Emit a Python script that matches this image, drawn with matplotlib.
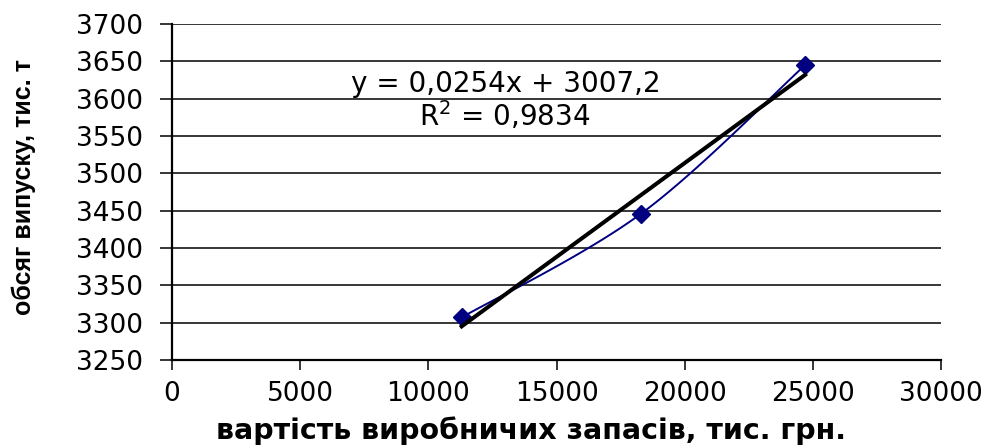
import numpy as np
import matplotlib
matplotlib.use("Agg")
import matplotlib.pyplot as plt

# data
x_vals = [11300, 18300, 24700]
y_vals = [3307, 3446, 3645]
x_ticks = [0, 5000, 10000, 15000, 20000, 25000, 30000]
y_ticks = [3250, 3300, 3350, 3400, 3450, 3500, 3550, 3600, 3650, 3700]
eq_text = "y = 0,0254x + 3007,2"
r2_text = "R$^2$ = 0,9834"
x_label = "вартість виробничих запасів, тис. грн."
y_label = "обсяг випуску, тис. т"

fig = plt.figure(figsize=(9.92, 4.48), dpi=100)
ax = fig.add_axes([172/992, 1-360/448, (941-172)/992, 336/448])
ax.set_xlim(0, 30000)
ax.set_ylim(3250, 3700)

# smoothed line (Excel-like Bezier smoothing in pixel space)
W, H = 769.0, 336.0
px = np.array(x_vals) / 30000 * W
py = (np.array(y_vals) - 3250) / 450 * H
P = np.column_stack([px, py])
n = len(P)
curve = []
t = np.linspace(0, 1, 60)
for i in range(n - 1):
    p0 = P[max(i - 1, 0)]
    p1 = P[i]
    p2 = P[i + 1]
    p3 = P[min(i + 2, n - 1)]
    c1 = p1 + (p2 - p0) / 6
    c2 = p2 - (p3 - p1) / 6
    seg = ((1 - t)[:, None] ** 3 * p1 + 3 * ((1 - t) ** 2 * t)[:, None] * c1
           + 3 * ((1 - t) * t ** 2)[:, None] * c2 + (t ** 3)[:, None] * p2)
    curve.append(seg)
curve = np.vstack(curve)
cx = curve[:, 0] / W * 30000
cy = curve[:, 1] / H * 450 + 3250
ax.plot(cx, cy, color="#000080", lw=1.4, zorder=3)
ax.plot(x_vals, y_vals, linestyle="none", marker="D", color="#000080",
        markersize=9, zorder=4)

# linear trend line
k, b = np.polyfit(x_vals, y_vals, 1)
xt = np.array([min(x_vals), max(x_vals)])
ax.plot(xt, k * xt + b, color="black", lw=2.9, zorder=5)

# grid & spines
ax.set_yticks(y_ticks)
ax.set_xticks(x_ticks)
ax.grid(axis="y", color="black", lw=1.1)
ax.set_axisbelow(True)
for s in ["top", "right"]:
    ax.spines[s].set_visible(False)
ax.spines["left"].set_linewidth(1.6)
ax.spines["bottom"].set_linewidth(1.6)
ax.tick_params(axis="y", direction="out", length=9, width=1.1, pad=12,
               labelsize=19)
ax.tick_params(axis="x", direction="out", length=7, width=1.1, pad=8,
               labelsize=19)
for lab in ax.get_xticklabels() + ax.get_yticklabels():
    lab.set_family("DejaVu Sans")

ax.text(506/992, 1-84/448, eq_text, transform=fig.transFigure,
        ha="center", va="center", fontsize=20, family="DejaVu Sans")
ax.text(505/992, 1-116/448, r2_text, transform=fig.transFigure,
        ha="center", va="center", fontsize=20, family="DejaVu Sans")

fig.text(531/992, 1-431/448, x_label, ha="center", va="center",
         fontsize=20.5, fontweight="bold", family="DejaVu Sans")
fig.text(24/992, 1-187/448, y_label, ha="center", va="center",
         rotation=90, fontsize=18, fontweight="bold",
         family=["Liberation Sans Narrow", "Liberation Sans"])

fig.savefig("out.png", dpi=100)
